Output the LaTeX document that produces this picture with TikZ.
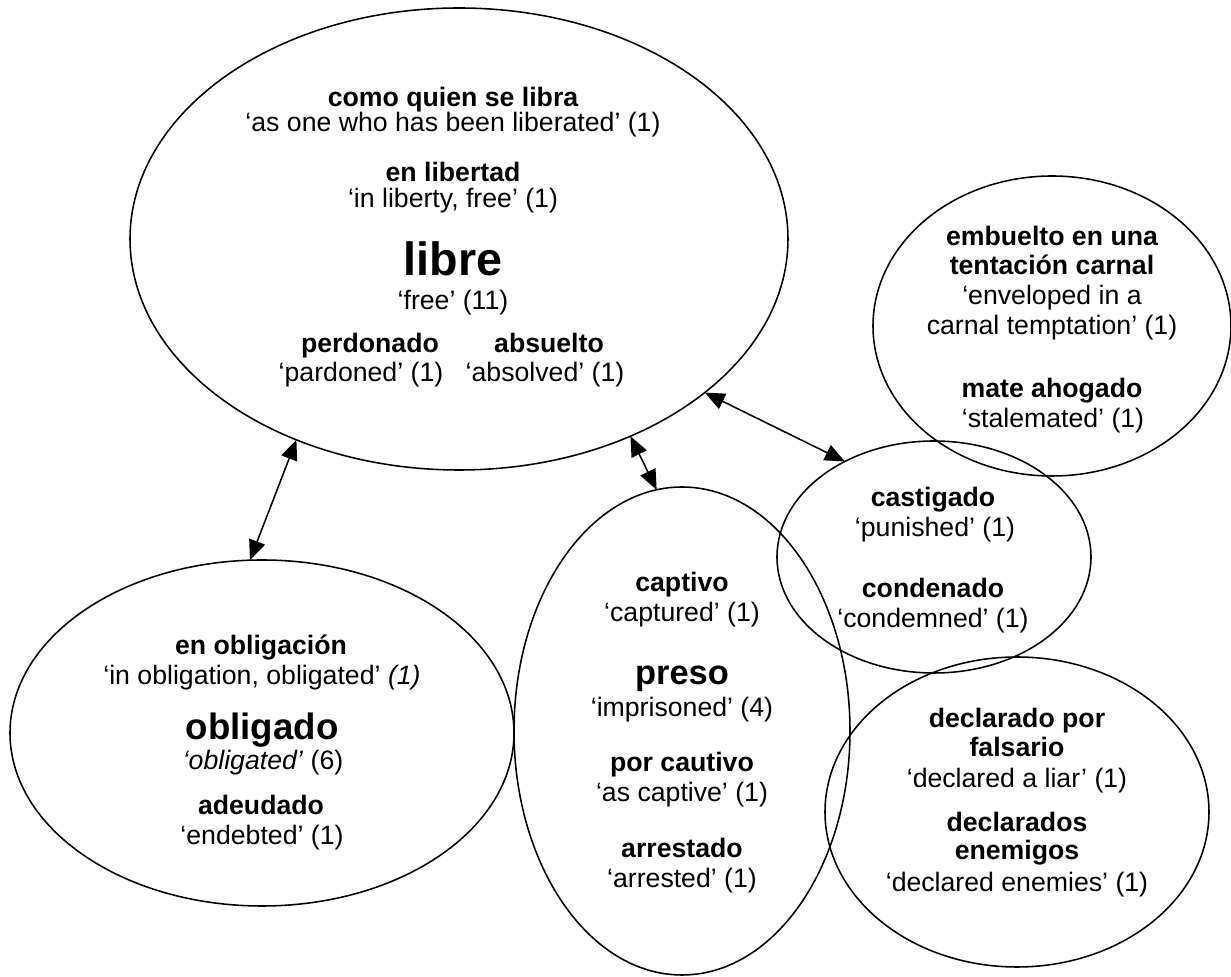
\documentclass[tikz,border=0pt]{standalone}
\usepackage{fontspec}
\setmainfont{Liberation Sans}
\usepackage{tikz}
\usetikzlibrary{shapes.geometric, arrows.meta}

\begin{document}
\begin{tikzpicture}[x=0.45pt, y=-0.45pt,
  bubble/.style 2 args={ellipse, draw, line width=0.7pt, inner sep=0pt, outer sep=0pt,
    minimum width=#1*0.9pt, minimum height=#2*0.9pt},
  term/.style={anchor=base, inner sep=0pt, font=\bfseries\fontsize{12}{14}\selectfont},
  gloss/.style={anchor=base, inner sep=0pt, font=\fontsize{12}{14}\selectfont},
  head/.style={anchor=base, inner sep=0pt, font=\bfseries\fontsize{#1}{#1}\selectfont},
  link/.style={{Triangle[length=9pt,width=7.5pt]}-{Triangle[length=9pt,width=7.5pt]}, line width=0.7pt}]
\useasboundingbox (0,0) rectangle (1231,977);
\node[bubble={329}{231}] (libre) at (459,239) {};
\node[bubble={179}{150}] (embuelto) at (1052,326) {};
\node[bubble={157}{116}] (castigado) at (934,557) {};
\node[bubble={168}{244}] (preso) at (682,731) {};
\node[bubble={252}{173}] (obligado) at (262,733) {};
\node[bubble={192}{155}] (declarado) at (1017,812) {};

\node[term] (como) at (453,107) {como quien se libra};
\node[gloss] (comoG) at (453,132) {‘as one who has been liberated’ (1)};
\node[term] (libertad) at (453,182) {en libertad};
\node[gloss] (libertadG) at (453,208) {‘in liberty, free’ (1)};
\node[head=21] (libreT) at (453,276) {libre};
\node[gloss] (libreG) at (453,310) {‘free’ (11)};
\node[term] (perdonado) at (370,353) {perdonado};
\node[gloss] (perdonadoG) at (361,382) {‘pardoned’ (1)};
\node[term] (absuelto) at (549,353) {absuelto};
\node[gloss] (absueltoG) at (545,382) {‘absolved’ (1)};

\node[term] (embueltoA) at (1052,246) {embuelto en una};
\node[term] (embueltoB) at (1052,275) {tentación carnal};
\node[gloss] (embueltoGA) at (1052,305) {‘enveloped in a};
\node[gloss] (embueltoGB) at (1052,335) {carnal temptation’ (1)};
\node[term] (mate) at (1052,398) {mate ahogado};
\node[gloss] (mateG) at (1053,428) {‘stalemated’ (1)};

\node[term] (castigadoT) at (933,507) {castigado};
\node[gloss] (castigadoG) at (935,537) {‘punished’ (1)};
\node[term] (condenado) at (933,598) {condenado};
\node[gloss] (condenadoG) at (933,628) {‘condemned’ (1)};

\node[term] (captivo) at (682,592) {captivo};
\node[gloss] (captivoG) at (682,622) {‘captured’ (1)};
\node[head=15.5] (presoT) at (682,685) {preso};
\node[gloss] (presoG) at (682,717) {‘imprisoned’ (4)};
\node[term] (porcautivo) at (682,772) {por cautivo};
\node[gloss] (porcautivoG) at (682,802) {‘as captive’ (1)};
\node[term] (arrestado) at (682,858) {arrestado};
\node[gloss] (arrestadoG) at (682,888) {‘arrested’ (1)};

\node[term] (obligacion) at (261,655) {en obligación};
\node[gloss] (obligacionG) at (262,685) {‘in obligation, obligated’ \textit{(1)}};
\node[head=16.5] (obligadoT) at (262,740) {obligado};
\node[gloss] (obligadoG) at (263,770) {\textit{‘obligated’} (6)};
\node[term] (adeudado) at (261,815) {adeudado};
\node[gloss] (adeudadoG) at (262,845) {‘endebted’ (1)};

\node[term] (declA) at (1017,728) {declarado por};
\node[term] (declB) at (1017,757) {falsario};
\node[gloss] (declG) at (1017,788) {‘declared a liar’ (1)};
\node[term] (declsA) at (1017,832) {declarados};
\node[term] (declsB) at (1017,860) {enemigos};
\node[gloss] (declsG) at (1017,892) {‘declared enemies’ (1)};

\draw[link] (libre.231) -- (obligado.94);
\draw[link] (libre.311) -- (preso.96);
\draw[link] (libre.328) -- (castigado.133);
\end{tikzpicture}
\end{document}
